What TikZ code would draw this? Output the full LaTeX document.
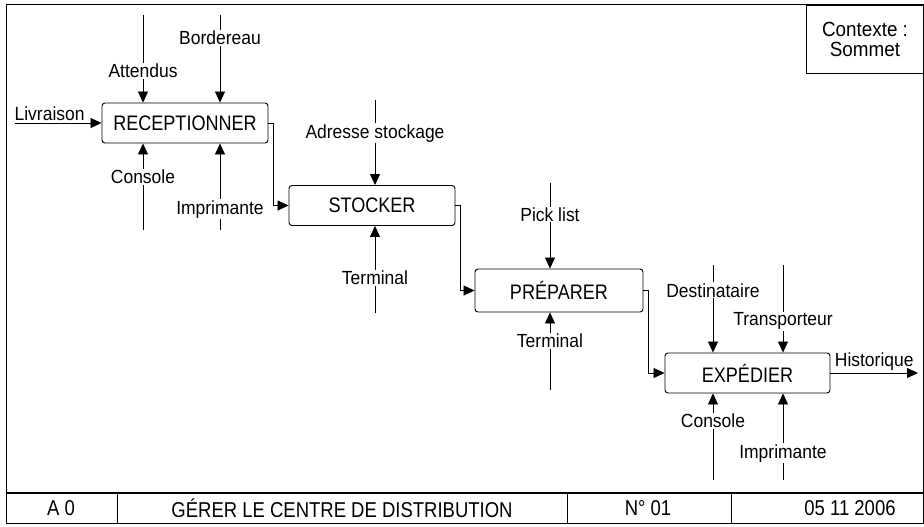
\documentclass[tikz,border=0pt]{standalone}
\usepackage{fontspec}
\setmainfont{Liberation Sans}
\newfontfamily\actfont{Liberation Sans}[FakeStretch=0.86]
\newfontfamily\lblfont{Liberation Sans}[FakeStretch=0.92]
\usetikzlibrary{arrows.meta, positioning, calc}

\begin{document}
\begin{tikzpicture}[
    x=1pt, y=-1pt,
    act/.style={rectangle, rounded corners=3pt, draw, line width=0.9pt,
                minimum width=166pt, minimum height=40pt, inner sep=0pt,
                font=\actfont\fontsize{21}{24}\selectfont},
    arr/.style={-{Triangle[length=11pt, width=10pt]}, line width=0.8pt},
    lbl/.style={fill=white, inner sep=1pt, font=\lblfont\fontsize{19}{22}\selectfont},
    flow/.style={inner sep=2pt, font=\lblfont\fontsize{19}{22}\selectfont},
    cell/.style={font=\actfont\fontsize{21.5}{24}\selectfont},
    frame/.style={line width=1pt}
  ]
  \useasboundingbox (0,0) rectangle (924,527);
  \draw[frame] (6,5) rectangle (923,523);

  % activities
  \node[act] (rec) at (185,123)   {RECEPTIONNER};
  \node[act] (sto) at (372,205.5) {STOCKER};
  \node[act, minimum width=168pt, minimum height=43pt] (pre) at (559,290.5) {PRÉPARER};
  \node[act, minimum width=165pt] (exp) at (747.5,373) {EXPÉDIER};

  % free ends of the arrows
  \coordinate (liv)   at (15,123);
  \coordinate (att)   at (143,15);
  \coordinate (bord)  at (220,15);
  \coordinate (cons1) at (143,230);
  \coordinate (impr1) at (220,230);
  \coordinate (adr)   at (375,100);
  \coordinate (term1) at (375,313);
  \coordinate (pick)  at (550,183);
  \coordinate (term2) at (550,390);
  \coordinate (dest)  at (713,265);
  \coordinate (trans) at (783,265);
  \coordinate (cons2) at (713,480);
  \coordinate (impr2) at (783,480);
  \coordinate (hist)  at (918,373);

  % RECEPTIONNER
  \draw[arr] (liv) -- node[flow, above, pos=0.4] (livL) {Livraison} (rec.west);
  \draw[arr] (att) -- node[lbl, pos=0.636] (attL) {Attendus} (att |- rec.north);
  \draw[arr] (bord) -- node[lbl, pos=0.26] (bordL) {Bordereau} (bord |- rec.north);
  \draw[arr] (cons1) -- node[lbl, pos=0.61] (cons1L) {Console} (cons1 |- rec.south);
  \draw[arr] (impr1) -- node[lbl, pos=0.24] (impr1L) {Imprimante} (impr1 |- rec.south);

  % STOCKER
  \draw[arr] (adr) -- node[lbl, pos=0.39] (adrL) {Adresse stockage} (adr |- sto.north);
  \draw[arr] (term1) -- node[lbl, pos=0.40] (term1L) {Terminal} (term1 |- sto.south);

  % PRÉPARER
  \draw[arr] (pick) -- node[lbl, pos=0.368] (pickL) {Pick list} (pick |- pre.north);
  \draw[arr] (term2) -- node[lbl, pos=0.63] (term2L) {Terminal} (term2 |- pre.south);

  % EXPÉDIER
  \draw[arr] (dest) -- node[lbl, pos=0.29] (destL) {Destinataire} (dest |- exp.north);
  \draw[arr] (trans) -- node[lbl, pos=0.64] (transL) {Transporteur} (trans |- exp.north);
  \draw[arr] (cons2) -- node[lbl, pos=0.68] (cons2L) {Console} (cons2 |- exp.south);
  \draw[arr] (impr2) -- node[lbl, pos=0.31] (impr2L) {Imprimante} (impr2 |- exp.south);
  \draw[arr] (exp.east) -- node[flow, above] (histL) {Historique} (hist);

  % links between activities
  \draw[arr] (rec.east) -- ++(5,0) |- (sto.west);
  \draw[arr] (sto.east) -- ++(5,0) |- (pre.west);
  \draw[arr] (pre.east) -- ++(5,0) |- (exp.west);

  % context box
  \node[draw, frame, anchor=north west, minimum width=117pt, minimum height=68pt,
        align=center, font=\lblfont\fontsize{20.5}{20}\selectfont] (ctx) at (806,5)
        {Contexte :\\Sommet};

  % title block
  \draw[line width=1.4pt] (6,493) -- (923,493);
  \foreach \xc in {117,567,731}
    \draw[frame] (\xc,493) -- (\xc,523);
  \node[cell] (node) at (61,508)  {A 0};
  \node[cell] (title) at (342,508) {GÉRER LE CENTRE DE DISTRIBUTION};
  \node[cell] (num) at (648,508)  {N° 01};
  \node[cell] (date) at (850,508) {05 11 2006};
\end{tikzpicture}
\end{document}
